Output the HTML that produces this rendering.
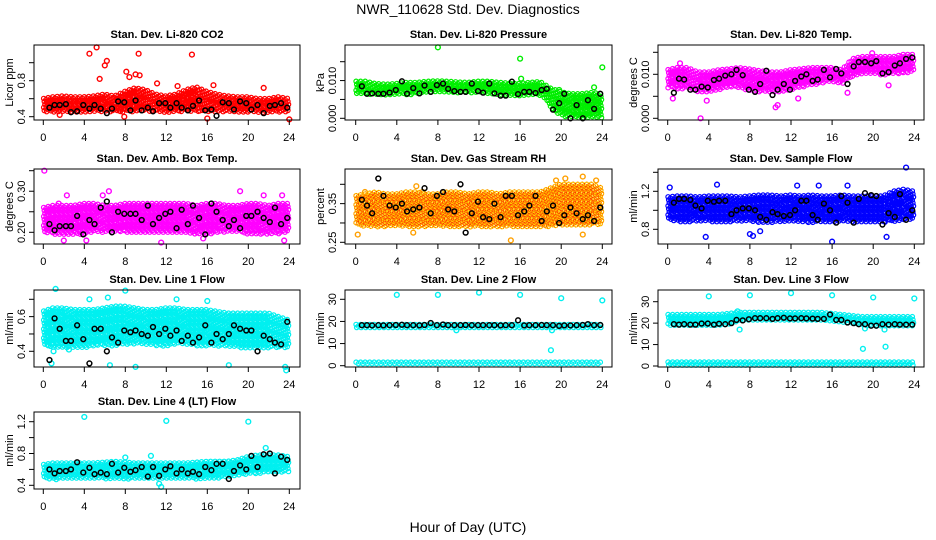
<!DOCTYPE html>
<html><head><meta charset="utf-8"><style>
html,body{margin:0;padding:0;background:#fff}
svg{display:block;font-family:"Liberation Sans",Arial,sans-serif}
</style></head><body>
<svg id="c" width="936" height="540" viewBox="0 0 936 540">
<text x="468" y="14" text-anchor="middle" font-size="14">NWR_110628  Std. Dev. Diagnostics</text>
<text x="468" y="532" text-anchor="middle" font-size="14">Hour of Day (UTC)</text>
</svg>
<script>
const hoursB=[0.6,1.1,1.6,2.2,2.7,3.3,3.9,4.5,5.0,5.6,6.2,6.7,7.3,7.9,8.5,9.0,9.6,10.2,10.7,11.3,11.9,12.4,13.0,13.5,14.1,14.6,15.2,15.8,16.4,16.9,17.5,18.1,18.6,19.2,19.8,20.3,20.9,21.5,22.1,22.6,23.2,23.8];
const xTicks=[0,4,8,12,16,20,24];

const co2Lo=[0.45,0.45,0.45,0.45,0.45,0.45,0.45,0.45,0.45,0.46,0.46,0.45,0.45,0.45,0.46,0.46,0.45,0.45,0.45,0.45,0.45,0.45,0.45,0.45,0.45];
const co2Hi=[0.6,0.62,0.63,0.62,0.62,0.63,0.65,0.63,0.68,0.72,0.7,0.65,0.63,0.65,0.7,0.73,0.68,0.65,0.63,0.62,0.62,0.6,0.6,0.62,0.6];
const co2OutX=[4.5,5.2,6.0,6.2,5.5,8.1,9.3,8.4,9.0,9.4,11.1,14.5,16.6,21.5,7.9,16,24,1.6,13.1];
const co2OutY=[1.1,1.17,0.97,1.02,0.82,0.9,1.1,0.84,0.87,0.86,0.77,1.09,0.75,0.72,0.4,0.38,0.37,0.42,0.74];
const co2Black=[0.5,0.53,0.53,0.54,0.45,0.46,0.53,0.49,0.53,0.49,0.44,0.49,0.57,0.56,0.47,0.58,0.47,0.5,0.46,0.55,0.55,0.5,0.55,0.5,0.47,0.52,0.58,0.47,0.48,0.41,0.56,0.55,0.48,0.57,0.55,0.48,0.53,0.44,0.52,0.53,0.55,0.5];

const presLo=[0.0065,0.0062,0.0062,0.0062,0.0062,0.0062,0.0065,0.0068,0.0068,0.0068,0.0068,0.0068,0.0068,0.0065,0.006,0.006,0.006,0.0062,0.006,0.003,0.0005,0.0002,0.0,0.0,0.0];
const presHi=[0.0098,0.0098,0.0092,0.009,0.0092,0.0095,0.0095,0.0098,0.0099,0.0098,0.0096,0.0095,0.0098,0.0098,0.0095,0.0093,0.0092,0.0095,0.0097,0.008,0.007,0.0065,0.0065,0.0068,0.0065];
const presOutX=[8,16,24,16.1,19.8,23.2];
const presOutY=[0.0188,0.0158,0.0135,0.0105,0.0075,0.0082];
const presBlack=[0.0085,0.0065,0.0066,0.0065,0.0065,0.0068,0.0075,0.0098,0.0065,0.008,0.0066,0.0087,0.007,0.0088,0.0092,0.0078,0.0072,0.007,0.007,0.0092,0.0072,0.0068,0.0092,0.0066,0.006,0.006,0.0097,0.0064,0.007,0.007,0.0067,0.0075,0.0078,0.0023,0.004,0.0065,0.0,0.0035,0.0,0.0048,0.0025,0.0065];

const tempLo=[0.007,0.0065,0.0068,0.006,0.0058,0.0065,0.007,0.007,0.0062,0.006,0.0058,0.006,0.0065,0.007,0.0075,0.008,0.0082,0.0078,0.0095,0.01,0.0102,0.0098,0.01,0.0102,0.0105];
const tempHi=[0.011,0.0115,0.0115,0.0105,0.0105,0.011,0.0112,0.0115,0.0112,0.0108,0.0105,0.0105,0.011,0.0112,0.0115,0.0115,0.0115,0.011,0.0135,0.014,0.014,0.014,0.014,0.0145,0.0145];
const tempOutX=[1.2,3.2,10.5,10.7,0.5,21.5,17.5,19.9,3.8,12.7];
const tempOutY=[0.0125,0.0,0.0025,0.003,0.0045,0.0075,0.0058,0.0148,0.004,0.0045];
const tempBlack=[0.0058,0.009,0.0088,0.0065,0.0065,0.0072,0.007,0.0087,0.009,0.0097,0.01,0.011,0.0098,0.0065,0.006,0.0078,0.0108,0.0053,0.0065,0.0078,0.0065,0.0085,0.0095,0.01,0.0085,0.0088,0.011,0.0093,0.0112,0.0102,0.0078,0.0118,0.0128,0.0128,0.0125,0.013,0.0102,0.0105,0.012,0.0125,0.0135,0.0138];

const ambLo=[0.2,0.195,0.195,0.195,0.195,0.2,0.2,0.2,0.2,0.2,0.2,0.2,0.2,0.2,0.2,0.195,0.195,0.2,0.2,0.2,0.195,0.195,0.195,0.195,0.2];
const ambHi=[0.26,0.265,0.265,0.265,0.27,0.27,0.265,0.265,0.27,0.27,0.27,0.27,0.27,0.27,0.27,0.265,0.27,0.27,0.265,0.265,0.27,0.27,0.265,0.27,0.27];
const ambOutX=[0.1,2.3,5.8,6.4,19.2,21.5,23.3,2.0,11.5,4.2,23.5,1.5,15.6];
const ambOutY=[0.35,0.29,0.29,0.30,0.30,0.29,0.29,0.18,0.175,0.18,0.18,0.27,0.185];
const ambBlack=[0.22,0.205,0.215,0.215,0.215,0.24,0.195,0.23,0.22,0.26,0.275,0.2,0.25,0.245,0.245,0.245,0.23,0.265,0.22,0.235,0.245,0.25,0.21,0.255,0.22,0.265,0.235,0.195,0.27,0.25,0.23,0.215,0.23,0.21,0.24,0.24,0.25,0.235,0.225,0.26,0.22,0.235];

const rhLo=[0.295,0.29,0.29,0.29,0.29,0.29,0.29,0.29,0.29,0.29,0.29,0.29,0.29,0.29,0.29,0.29,0.29,0.29,0.29,0.29,0.295,0.295,0.295,0.295,0.295];
const rhHi=[0.37,0.375,0.38,0.375,0.375,0.38,0.38,0.375,0.375,0.38,0.38,0.375,0.38,0.38,0.375,0.38,0.38,0.38,0.38,0.39,0.4,0.4,0.4,0.4,0.39];
const rhOutX=[0.2,15.1,22.1,5.6,0.9,5.9,19.5,20.4,22.1,23.4,6.5];
const rhOutY=[0.27,0.255,0.27,0.275,0.38,0.395,0.41,0.415,0.42,0.41,0.38];
const rhBlack=[0.36,0.345,0.325,0.415,0.37,0.345,0.34,0.35,0.33,0.335,0.34,0.39,0.325,0.37,0.38,0.335,0.33,0.4,0.275,0.325,0.355,0.315,0.31,0.35,0.315,0.37,0.37,0.32,0.33,0.345,0.37,0.305,0.33,0.345,0.3,0.32,0.34,0.325,0.31,0.32,0.305,0.34];

const sfLo=[0.9,0.88,0.88,0.88,0.88,0.88,0.88,0.88,0.88,0.87,0.87,0.88,0.88,0.87,0.87,0.87,0.88,0.88,0.88,0.88,0.87,0.87,0.88,0.9,0.9];
const sfHi=[1.14,1.15,1.15,1.14,1.15,1.15,1.15,1.14,1.15,1.16,1.16,1.15,1.16,1.15,1.16,1.15,1.15,1.16,1.15,1.15,1.15,1.15,1.2,1.22,1.2];
const sfOutX=[3.7,8,8.3,16,21.3,23.2,4.8,12.6,14.7,17.5,0.2,9];
const sfOutY=[0.72,0.75,0.73,0.67,0.72,1.45,1.27,1.26,1.26,1.26,1.24,0.78];
const sfBlack=[1.08,1.12,1.12,1.11,1.05,1.02,1.1,1.09,1.1,1.1,0.96,1.0,1.02,1.02,1.0,0.93,0.9,0.98,0.96,0.94,0.95,1.0,1.1,1.1,0.95,0.9,1.07,1.0,0.87,1.15,1.08,0.87,1.12,1.18,1.16,1.15,0.85,0.97,0.93,1.17,0.9,1.0];

const l1Lo=[0.44,0.42,0.42,0.42,0.42,0.43,0.43,0.43,0.44,0.44,0.44,0.43,0.43,0.44,0.44,0.43,0.43,0.43,0.43,0.42,0.42,0.42,0.42,0.42,0.42];
const l1Hi=[0.63,0.65,0.65,0.64,0.64,0.64,0.65,0.66,0.66,0.65,0.64,0.64,0.65,0.65,0.64,0.64,0.64,0.63,0.62,0.62,0.62,0.62,0.62,0.6,0.58];
const l1OutX=[1.2,4.5,6.3,8,13,16,0.8,6.5,9,18.1,23.7,23.6,1,2.5];
const l1OutY=[0.76,0.7,0.71,0.75,0.7,0.69,0.33,0.32,0.31,0.32,0.29,0.31,0.4,0.41];
const l1Black=[0.35,0.59,0.53,0.46,0.46,0.55,0.47,0.33,0.53,0.53,0.4,0.48,0.45,0.52,0.51,0.52,0.5,0.49,0.54,0.5,0.53,0.49,0.52,0.46,0.49,0.45,0.48,0.55,0.45,0.5,0.47,0.5,0.55,0.53,0.52,0.52,0.4,0.49,0.47,0.45,0.44,0.57];

const l2HighLo=[16.8,16.8,16.8,16.8,16.8,16.8,16.8,16.8,16.8,16.8,16.8,16.8,16.8,16.8,16.8,16.8,16.8,16.8,16.8,16.8,16.8,16.8,16.8,16.8,16.8];
const l2HighHi=[18.6,18.6,18.6,18.6,18.6,18.6,18.6,18.6,18.6,18.6,18.6,18.6,18.6,18.6,18.6,18.6,18.6,18.6,18.6,18.6,18.6,18.6,18.6,18.6,18.6];
const l2LowLo=[0.3,0.3,0.3,0.3,0.3,0.3,0.3,0.3,0.3,0.3,0.3,0.3,0.3,0.3,0.3,0.3,0.3,0.3,0.3,0.3,0.3,0.3,0.3,0.3,0.3];
const l2LowHi=[1.6,1.6,1.6,1.6,1.6,1.6,1.6,1.6,1.6,1.6,1.6,1.6,1.6,1.6,1.6,1.6,1.6,1.6,1.6,1.6,1.6,1.6,1.6,1.6,1.6];
const l2OutX=[4,8,12,16,20,24,19,19.1,9.8];
const l2OutY=[32,32,33,32,30.5,29.5,7,16,16];
const l2Black=[18.3,18.3,18.2,18.3,18.2,18.3,18.4,18.5,18.3,18.3,18.2,18.4,19.3,18.3,18.6,18.3,18.3,18.3,18.4,18.3,18.3,18.3,18.3,18.3,18.2,18.3,18.3,20.5,18.2,18.3,18.3,18.4,18.3,18.3,18.0,18.2,18.2,18.3,18.4,18.8,18.3,18.4];

const l3HighLo=[19,19,19,19,19,19,19.5,21,21.5,21.5,21.5,21.5,21.5,21.5,21.5,21.5,21,20.5,20,19,18.5,18.5,18.5,18.5,18.5];
const l3HighHi=[24,24,24,24,24,24,24.5,25,25,25,25,25,25,25,25,25,24.5,24,23.5,23,23,23,23,23,23];
const l3LowLo=[0.4,0.4,0.4,0.4,0.4,0.4,0.4,0.4,0.4,0.4,0.4,0.4,0.4,0.4,0.4,0.4,0.4,0.4,0.4,0.4,0.4,0.4,0.4,0.4,0.4];
const l3LowHi=[1.8,1.8,1.8,1.8,1.8,1.8,1.8,1.8,1.8,1.8,1.8,1.8,1.8,1.8,1.8,1.8,1.8,1.8,1.8,1.8,1.8,1.8,1.8,1.8,1.8];
const l3OutX=[4,8,12,16,20,24,19,21.2,7,19.2,21.1,6.8];
const l3OutY=[32.5,33,34,33,32,31.5,8,9,17,17.5,17,25.5];
const l3Black=[19.5,19.3,19.5,19.3,19.3,19.8,19.8,19.3,19.7,19.5,20,21.5,21.3,21.8,22.3,22.3,22.3,22,22.3,22.5,22.2,22.2,22.3,22.2,22.1,22,22,24,21.5,21.5,20.3,20,19.5,19.5,18.8,18.8,19.5,19.3,19.5,19.3,19.3,19.3];

const l4Lo=[0.48,0.47,0.48,0.48,0.48,0.48,0.48,0.49,0.48,0.48,0.48,0.48,0.48,0.48,0.48,0.48,0.49,0.49,0.5,0.52,0.54,0.55,0.56,0.56,0.56];
const l4Hi=[0.66,0.68,0.68,0.68,0.68,0.68,0.69,0.7,0.69,0.68,0.68,0.68,0.68,0.68,0.68,0.69,0.7,0.7,0.7,0.72,0.76,0.78,0.78,0.78,0.76];
const l4OutX=[4,12,20,21.7,11.5,11.3,10.5,8];
const l4OutY=[1.26,1.21,1.2,0.87,0.38,0.42,0.77,0.75];
const l4Black=[0.6,0.55,0.58,0.58,0.6,0.69,0.56,0.62,0.54,0.56,0.54,0.67,0.56,0.62,0.57,0.59,0.63,0.51,0.63,0.52,0.6,0.64,0.55,0.6,0.55,0.57,0.54,0.63,0.59,0.67,0.67,0.48,0.58,0.65,0.6,0.77,0.63,0.79,0.8,0.55,0.76,0.72];

const NS='http://www.w3.org/2000/svg';
const svg=document.getElementById('c');
function el(tag,attrs,parent){const e=document.createElementNS(NS,tag);for(const k in attrs)e.setAttribute(k,attrs[k]);(parent||svg).appendChild(e);return e;}

const cols=[{l:34,r:300,x0:43.3,x24:289.3},{l:345,r:612,x0:355.7,x24:602.3},{l:658,r:924,x0:667.7,x24:914.3}];
const rows=[{t:45,b:120},{t:169,b:244},{t:290,b:367},{t:412,b:489}];

const panels=[
 {key:'co2',title:'Stan. Dev. Li-820 CO2',ylab:'Licor ppm',c:0,r:0,v0:0.4,p0:116.7,v1:1.0,p1:62.7,ticks:[0.4,0.6,0.8,1.0],labs:['0.4','','0.8',''],color:'#ff0000',bands:[[co2Lo,co2Hi]],ox:co2OutX,oy:co2OutY,by:co2Black},
 {key:'pressure',title:'Stan. Dev. Li-820 Pressure',ylab:'kPa',c:1,r:0,v0:0,p0:118.3,v1:0.015,p1:61.7,ticks:[0,0.005,0.01,0.015],labs:['0.000','','0.010',''],color:'#00ee00',bands:[[presLo,presHi]],ox:presOutX,oy:presOutY,by:presBlack},
 {key:'temp',title:'Stan. Dev. Li-820 Temp.',ylab:'degrees C',c:2,r:0,v0:0,p0:118.3,v1:0.015,p1:52.3,ticks:[0,0.005,0.01,0.015],labs:['0.000','','0.010',''],color:'#ff00ff',bands:[[tempLo,tempHi]],ox:tempOutX,oy:tempOutY,by:tempBlack},
 {key:'amb-box',title:'Stan. Dev. Amb. Box Temp.',ylab:'degrees C',c:0,r:1,v0:0.2,p0:232.3,v1:0.35,p1:170.7,ticks:[0.2,0.25,0.3,0.35],labs:['0.20','','0.30',''],color:'#ff00ff',bands:[[ambLo,ambHi]],ox:ambOutX,oy:ambOutY,by:ambBlack},
 {key:'gas-rh',title:'Stan. Dev. Gas Stream RH',ylab:'percent',c:1,r:1,v0:0.25,p0:242.3,v1:0.4,p1:184.3,ticks:[0.25,0.3,0.35,0.4],labs:['0.25','','0.35',''],color:'#ffd000',bands:[[rhLo,rhHi]],ox:rhOutX,oy:rhOutY,by:rhBlack},
 {key:'sample-flow',title:'Stan. Dev. Sample Flow',ylab:'ml/min',c:2,r:1,v0:0.8,p0:229.3,v1:1.4,p1:172.3,ticks:[0.8,1.0,1.2,1.4],labs:['0.8','','1.2',''],color:'#0000ff',bands:[[sfLo,sfHi]],ox:sfOutX,oy:sfOutY,by:sfBlack},
 {key:'line1',title:'Stan. Dev. Line 1 Flow',ylab:'ml/min',c:0,r:2,v0:0.4,p0:351.3,v1:0.7,p1:299.3,ticks:[0.4,0.5,0.6,0.7],labs:['0.4','','0.6',''],color:'#00f0f0',bands:[[l1Lo,l1Hi]],ox:l1OutX,oy:l1OutY,by:l1Black},
 {key:'line2',title:'Stan. Dev. Line 2 Flow',ylab:'ml/min',c:1,r:2,v0:0,p0:365.7,v1:30,p1:299.3,ticks:[0,10,20,30],labs:['0','10','20','30'],color:'#00f0f0',bands:[[l2HighLo,l2HighHi],[l2LowLo,l2LowHi]],ox:l2OutX,oy:l2OutY,by:l2Black},
 {key:'line3',title:'Stan. Dev. Line 3 Flow',ylab:'ml/min',c:2,r:2,v0:0,p0:366,v1:30,p1:301.7,ticks:[0,10,20,30],labs:['0','10','20','30'],color:'#00f0f0',bands:[[l3HighLo,l3HighHi],[l3LowLo,l3LowHi]],ox:l3OutX,oy:l3OutY,by:l3Black},
 {key:'line4',title:'Stan. Dev. Line 4 (LT) Flow',ylab:'ml/min',c:0,r:3,v0:0.4,p0:485.3,v1:1.2,p1:421.7,ticks:[0.4,0.6,0.8,1.0,1.2],labs:['0.4','','0.8','','1.2'],color:'#00f0f0',bands:[[l4Lo,l4Hi]],ox:l4OutX,oy:l4OutY,by:l4Black}
];

function interp(arr,h){const i=Math.min(23,Math.floor(h));const f=h-i;return arr[i]*(1-f)+arr[i+1]*f;}

panels.forEach(P=>{
  const C=cols[P.c],R=rows[P.r];
  const xs=h=>C.x0+h*(C.x24-C.x0)/24;
  const ys=v=>P.p0+(v-P.v0)*(P.p1-P.p0)/(P.v1-P.v0);
  const g=el('g',{});
  
  
  const t=el('text',{x:(C.l+C.r)/2,y:R.t-7,'text-anchor':'middle','font-size':'11','font-weight':'bold'},g);
  t.textContent=P.title;
  
  
  P.bands.forEach((b,bi)=>{
    let d='';let col=0;
    for(let h=0.1;h<=23.95;h+=0.22){
      const yl=ys(interp(b[0],h)),yh=ys(interp(b[1],h));
      const top=Math.min(yl,yh),bot=Math.max(yl,yh);
      const x=xs(h);let k=0;
      for(let y=top+((col%2)?1.5:0);y<=bot;y+=3){
        const xx=x+((k%3)-1)*0.6;
        d+=`M${(xx-2.2).toFixed(1)},${y.toFixed(1)}a2.2,2.2 0 1,0 4.4,0a2.2,2.2 0 1,0 -4.4,0`;k++;
      }
      col++;
    }
    const p=el('path',{d:d,fill:'none',stroke:P.color,'stroke-width':'1.2'},g);
    
    
    if(P.key==='gas-rh'){
      const p2=el('path',{d:d,fill:'none',stroke:'#ff2a00','stroke-width':'0.7','stroke-dasharray':'0.8 1.6'},g);
      
      
    }
  });
  P.ox.forEach((h,i)=>{
    const c=el('circle',{cx:xs(h),cy:ys(P.oy[i]),r:2.4,fill:'none',stroke:P.key==='gas-rh'?'#ffa000':P.color,'stroke-width':'1.4'},g);
    
    
  });
  hoursB.forEach((h,i)=>{
    const c=el('circle',{cx:xs(h),cy:ys(P.by[i]),r:2.4,fill:'none',stroke:'#000','stroke-width':'1.5'},g);
    
    
  });
  const box=el('rect',{x:C.l,y:R.t,width:C.r-C.l,height:R.b-R.t,fill:'none',stroke:'#000','stroke-width':'1'},g);
  
  
  xTicks.forEach(v=>{
    const x=xs(v);
    el('line',{x1:x,y1:R.b,x2:x,y2:R.b+5,stroke:'#000'},g);
    const tx=el('text',{x:x,y:R.b+21,'text-anchor':'middle','font-size':'11'},g);
    tx.textContent=v;
    
    
  });
  P.ticks.forEach((v,i)=>{
    const y=ys(v);
    el('line',{x1:C.l-5,y1:y,x2:C.l,y2:y,stroke:'#000'},g);
    if(P.labs[i]){
      const tx=el('text',{x:0,y:0,'text-anchor':'middle','font-size':'11',transform:`translate(${C.l-9},${y}) rotate(-90)`},g);
      tx.textContent=P.labs[i];
      
      
    }
  });
  el('line',{x1:C.l,y1:ys(P.ticks[0]),x2:C.l,y2:ys(P.ticks[P.ticks.length-1]),stroke:'#000'},g);
  const yl=el('text',{x:0,y:0,'text-anchor':'middle','font-size':'11',transform:`translate(${C.l-21},${(R.t+R.b)/2}) rotate(-90)`},g);
  yl.textContent=P.ylab;
  
  
});
</script>
</body></html>
